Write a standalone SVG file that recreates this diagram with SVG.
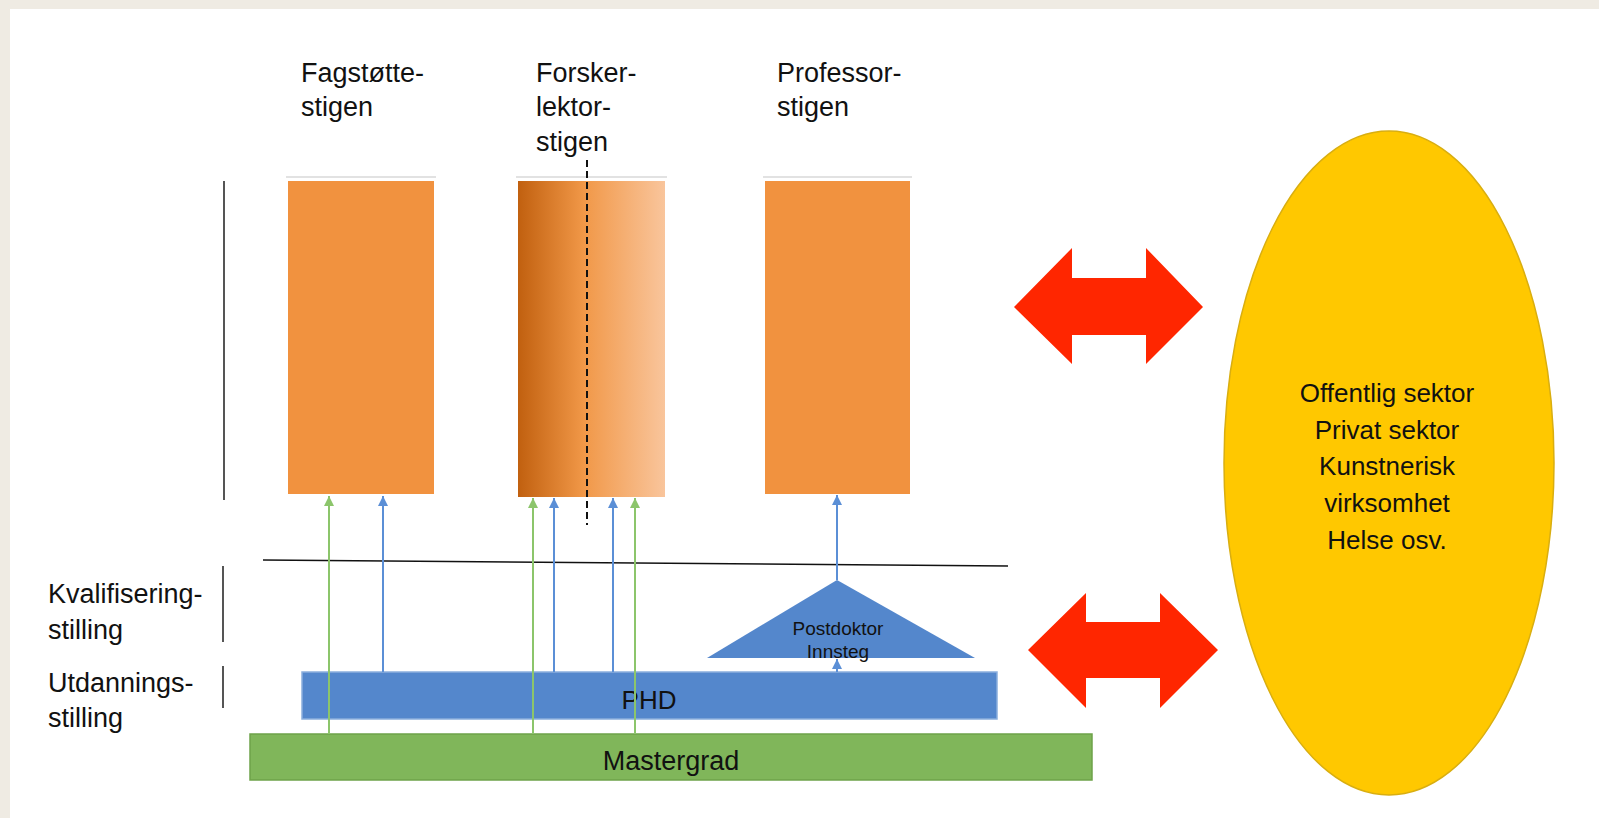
<svg xmlns="http://www.w3.org/2000/svg" width="1599" height="818" viewBox="0 0 1599 818">
<defs>
<style>
.lbl{font-family:"Liberation Sans",Arial,sans-serif;font-size:27px;fill:#111}
.ctr{font-family:"Liberation Sans",Arial,sans-serif;fill:#111;text-anchor:middle}
.orange{fill:#F1923F}
.cap{stroke:#E2E2E2;stroke-width:2}
.bar{stroke:#555;stroke-width:2}
.blue{stroke:#5B8FD6;stroke-width:2;fill:none}
.green{stroke:#8CC56B;stroke-width:2;fill:none}
.red{fill:#FF2600}
</style>
<linearGradient id="grad" x1="0" y1="0" x2="1" y2="0">
<stop offset="0" stop-color="#C1600F"/>
<stop offset="0.45" stop-color="#F19848"/>
<stop offset="1" stop-color="#F9C59C"/>
</linearGradient>
<marker id="ab" markerUnits="userSpaceOnUse" markerWidth="12" markerHeight="12" refX="10" refY="5" orient="auto"><path d="M0,0 L10,5 L0,10 Z" fill="#5B8FD6"/></marker>
<marker id="ag" markerUnits="userSpaceOnUse" markerWidth="12" markerHeight="12" refX="10" refY="5" orient="auto"><path d="M0,0 L10,5 L0,10 Z" fill="#8CC56B"/></marker>
</defs>
<rect x="0" y="0" width="1599" height="818" fill="#EFEBE3"/>
<rect x="10" y="9" width="1589" height="809" fill="#FFFFFF"/>

<g id="label-fagstotte">
<text class="lbl" x="301" y="82">Fagstøtte-</text>
<text class="lbl" x="301" y="116">stigen</text>
</g>
<g id="label-forsker">
<text class="lbl" x="536" y="82">Forsker-</text>
<text class="lbl" x="536" y="116">lektor-</text>
<text class="lbl" x="536" y="151">stigen</text>
</g>
<g id="label-professor">
<text class="lbl" x="777" y="82">Professor-</text>
<text class="lbl" x="777" y="116">stigen</text>
</g>

<g id="left-axis">
<line class="bar" x1="224" y1="181" x2="224" y2="500"/>
</g>
<g id="label-kvalifisering">
<line class="bar" x1="223" y1="566" x2="223" y2="642"/>
<text class="lbl" x="48" y="603">Kvalifisering-</text>
<text class="lbl" x="48" y="639">stilling</text>
</g>
<g id="label-utdanning">
<line class="bar" x1="223" y1="666" x2="223" y2="708"/>
<text class="lbl" x="48" y="692">Utdannings-</text>
<text class="lbl" x="48" y="727">stilling</text>
</g>

<g id="box-fagstotte">
<line class="cap" x1="286" y1="177" x2="436" y2="177"/>
<rect class="orange" x="288" y="181" width="146" height="313"/>
</g>
<g id="box-forsker">
<line class="cap" x1="516" y1="177" x2="667" y2="177"/>
<rect x="518" y="181" width="147" height="316" fill="url(#grad)"/>
<line x1="587" y1="160" x2="587" y2="525" stroke="#111" stroke-width="2" stroke-dasharray="7,4"/>
</g>
<g id="box-professor">
<line class="cap" x1="763" y1="177" x2="912" y2="177"/>
<rect class="orange" x="765" y="181" width="145" height="313"/>
</g>

<g id="divider">
<path d="M263,560 L1008,566" stroke="#111" stroke-width="1.6" fill="none"/>
</g>

<g id="postdoktor">
<path d="M837,580 L975,658 L707,658 Z" fill="#5487CC"/>
<text class="ctr" x="838" y="635" font-size="19">Postdoktor</text>
<text class="ctr" x="838" y="658" font-size="19">Innsteg</text>
</g>

<g id="phd">
<rect x="302" y="672" width="695" height="47" fill="#5487CC" stroke="#8AAEDD" stroke-width="1.5"/>
<text class="ctr" x="649" y="709" font-size="26">PHD</text>
</g>

<g id="mastergrad">
<rect x="250" y="734" width="842" height="46" fill="#80B65A" stroke="#6EA24A" stroke-width="1.5"/>
<text class="ctr" x="671" y="770" font-size="27">Mastergrad</text>
</g>

<g id="connectors">
<line class="green" x1="329" y1="734" x2="329" y2="496" marker-end="url(#ag)"/>
<line class="green" x1="533" y1="734" x2="533" y2="498" marker-end="url(#ag)"/>
<line class="green" x1="635" y1="734" x2="635" y2="498" marker-end="url(#ag)"/>
<line class="blue" x1="383" y1="672" x2="383" y2="496" marker-end="url(#ab)"/>
<line class="blue" x1="554" y1="672" x2="554" y2="498" marker-end="url(#ab)"/>
<line class="blue" x1="613" y1="672" x2="613" y2="498" marker-end="url(#ab)"/>
<line class="blue" x1="837" y1="580" x2="837" y2="495" marker-end="url(#ab)"/>
<line class="blue" x1="837" y1="672" x2="837" y2="659" marker-end="url(#ab)"/>
</g>

<g id="arrow-top">
<path class="red" d="M1014,307 L1072,248 L1072,278 L1146,278 L1146,248 L1203,307 L1146,364 L1146,335 L1072,335 L1072,364 Z"/>
</g>
<g id="arrow-bottom">
<path class="red" d="M1028,650 L1086,593 L1086,622 L1160,622 L1160,593 L1218,650 L1160,708 L1160,678 L1086,678 L1086,708 Z"/>
</g>

<g id="sector">
<ellipse cx="1389" cy="463" rx="165" ry="332" fill="#FFC800" stroke="#D9AE10" stroke-width="1.5"/>
<text class="ctr" x="1387" y="402" font-size="26">Offentlig sektor</text>
<text class="ctr" x="1387" y="439" font-size="26">Privat sektor</text>
<text class="ctr" x="1387" y="475" font-size="26">Kunstnerisk</text>
<text class="ctr" x="1387" y="512" font-size="26">virksomhet</text>
<text class="ctr" x="1387" y="549" font-size="26">Helse osv.</text>
</g>
</svg>
